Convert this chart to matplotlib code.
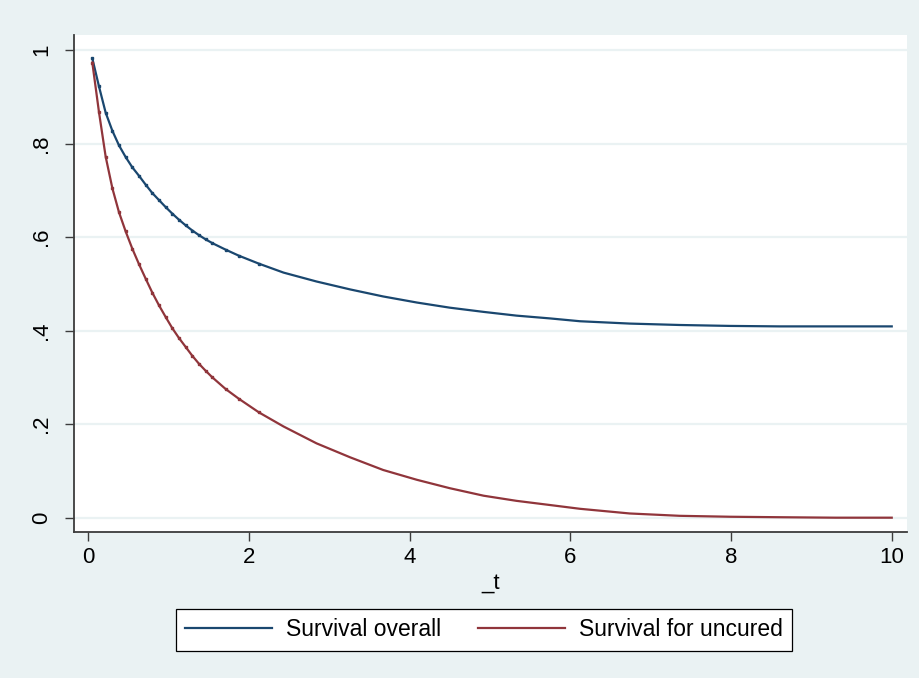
import matplotlib
matplotlib.use('Agg')
import matplotlib.pyplot as plt

# values
t_vals = [0.05, 0.133, 0.216, 0.30, 0.382, 0.465, 0.548, 0.631, 0.714, 0.797,
          0.880, 0.963, 1.046, 1.129, 1.212, 1.295, 1.378, 1.461, 1.544, 1.71,
          1.876, 2.125, 2.43, 2.84, 3.26, 3.67, 4.09, 4.50, 4.92, 5.33,
          5.75, 6.12, 6.74, 7.36, 7.99, 8.6, 9.3, 10.0]
surv_overall = [0.982, 0.922, 0.866, 0.827, 0.796, 0.771, 0.749, 0.731, 0.712, 0.694,
                0.679, 0.664, 0.650, 0.637, 0.625, 0.614, 0.604, 0.595, 0.587, 0.573,
                0.560, 0.543, 0.524, 0.505, 0.488, 0.473, 0.460, 0.449, 0.440, 0.432,
                0.426, 0.420, 0.415, 0.412, 0.410, 0.409, 0.409, 0.409]
surv_uncured = [0.973, 0.867, 0.772, 0.704, 0.653, 0.612, 0.575, 0.542, 0.511, 0.481,
                0.454, 0.429, 0.405, 0.384, 0.365, 0.346, 0.329, 0.314, 0.300, 0.275,
                0.254, 0.225, 0.195, 0.159, 0.129, 0.102, 0.081, 0.063, 0.047, 0.036,
                0.027, 0.019, 0.009, 0.004, 0.002, 0.001, 0.000, 0.000]
x_ticks = [0, 2, 4, 6, 8, 10]
y_ticks = [0, 0.2, 0.4, 0.6, 0.8, 1.0]
y_tick_labels = ['0', '.2', '.4', '.6', '.8', '1']
series_names = ['Survival overall', 'Survival for uncured']

bg = '#EAF2F3'
navy = '#1A476F'
maroon = '#90353B'
axis_col = '#3C3C3C'

plt.rcParams['font.family'] = ['Liberation Sans', 'DejaVu Sans']

fig = plt.figure(figsize=(9.19, 6.78), dpi=100, facecolor=bg)
ax = fig.add_axes([74 / 919, 1 - 532 / 678, (907 - 74) / 919, (532 - 35) / 678])
ax.set_facecolor('white')

for y in y_ticks:
    ax.axhline(y, color=bg, lw=1.6, zorder=0)

# small markers only where the points are dense, like the original
marks = slice(0, 22)
ax.plot(t_vals, surv_overall, color=navy, lw=1.6, marker='s', markersize=2,
        markevery=marks)
ax.plot(t_vals, surv_uncured, color=maroon, lw=1.6, marker='s', markersize=2,
        markevery=marks)

ax.set_xlim(-0.178, 10.19)
ax.set_ylim(-0.0306, 1.032)
ax.set_xticks(x_ticks)
ax.set_xticklabels([str(x) for x in x_ticks])
ax.set_yticks(y_ticks)
ax.set_yticklabels(y_tick_labels, rotation=90, va='center')

for side in ['top', 'right']:
    ax.spines[side].set_visible(False)
for side in ['left', 'bottom']:
    ax.spines[side].set_color(axis_col)
    ax.spines[side].set_linewidth(1.3)

ax.tick_params(axis='both', length=6.5, width=1.0, color=axis_col, labelsize=16)
ax.tick_params(axis='x', pad=4)
ax.tick_params(axis='y', pad=9)
ax.set_xlabel('_t', fontsize=16, labelpad=4)

leg_lines = [plt.Line2D([], [], color=navy, lw=1.6),
             plt.Line2D([], [], color=maroon, lw=1.6)]
leg = fig.legend(leg_lines, series_names, loc='center', ncol=2,
                 bbox_to_anchor=(484 / 919, 1 - 630 / 678), fontsize=16.5,
                 handlelength=3.8, handletextpad=0.6, columnspacing=1.6,
                 fancybox=False, framealpha=1, borderpad=0.4)
leg.get_frame().set_edgecolor('black')
leg.get_frame().set_linewidth(0.9)

plt.savefig('out.png', dpi=100, facecolor=bg)
